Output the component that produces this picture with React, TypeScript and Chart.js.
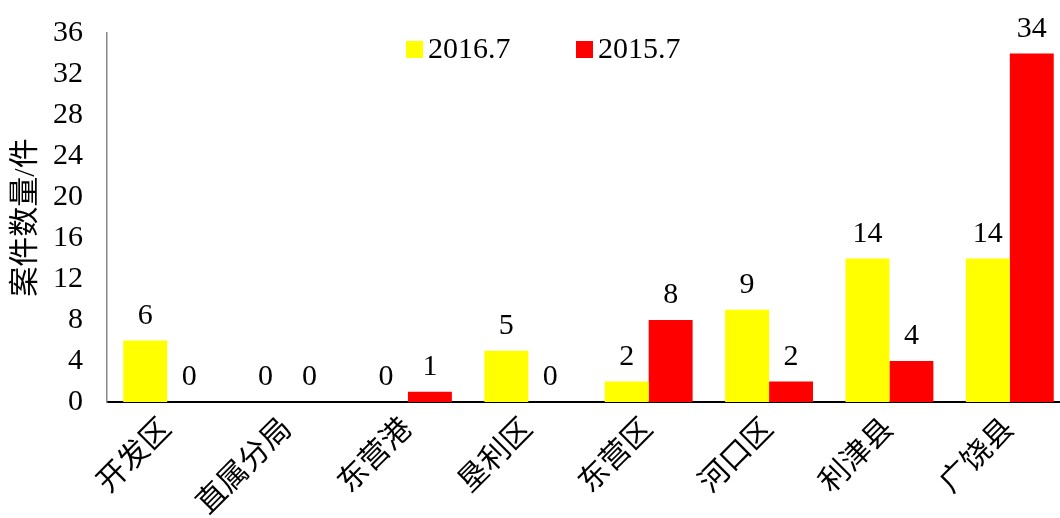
import React, { useEffect, useRef } from "react";
import { Chart, registerables } from "chart.js";

Chart.register(...registerables);

const categories = ["开发区", "直属分局", "东营港", "垦利区", "东营区", "河口区", "利津县", "广饶县"];
const series2016 = [6, 0, 0, 5, 2, 9, 14, 14];
const series2015 = [0, 0, 1, 0, 8, 2, 4, 34];
const seriesNames = ["2016.7", "2015.7"];
const seriesColors = ["#FFFF00", "#FF0000"];
const yTitle = "案件数量/件";

const FONT = "'Liberation Serif', 'Times New Roman', 'Noto Sans CJK SC', serif";
const FS = 30;

const labelPlugin = {
  id: "valueLabels",
  afterDatasetsDraw(chart: any) {
    const ctx = chart.ctx;
    ctx.save();
    ctx.font = `${FS}px ${FONT}`;
    ctx.fillStyle = "#000";
    ctx.textAlign = "center";
    ctx.textBaseline = "alphabetic";
    chart.data.datasets.forEach((ds: any, i: number) => {
      const meta = chart.getDatasetMeta(i);
      meta.data.forEach((el: any, j: number) => {
        ctx.fillText(String(ds.data[j]), el.x, el.y - 17);
      });
    });
    ctx.restore();
  },
};

const legendPlugin = {
  id: "customLegend",
  afterDraw(chart: any) {
    const ctx = chart.ctx;
    const area = chart.chartArea;
    ctx.save();
    ctx.font = `${FS}px ${FONT}`;
    ctx.textBaseline = "middle";
    ctx.textAlign = "left";
    const starts = [area.left + 299, area.left + 469];
    chart.data.datasets.forEach((ds: any, i: number) => {
      const x = starts[i];
      const y = area.top + 8;
      ctx.fillStyle = ds.backgroundColor;
      ctx.fillRect(x, y, 17, 17);
      ctx.fillStyle = "#000";
      ctx.fillText(ds.label, x + 22, y + 9);
    });
    ctx.restore();
  },
};

export default function App() {
  const ref = useRef<HTMLCanvasElement | null>(null);
  useEffect(() => {
    if (!ref.current) return;
    const chart = new Chart(ref.current, {
      type: "bar",
      data: {
        labels: categories,
        datasets: [
          { label: seriesNames[0], data: series2016, backgroundColor: seriesColors[0] },
          { label: seriesNames[1], data: series2015, backgroundColor: seriesColors[1] },
        ],
      },
      options: {
        animation: false,
        responsive: true,
        maintainAspectRatio: false,
        layout: { padding: { top: 33, right: 2, left: 8, bottom: 0 } },
        plugins: {
          legend: { display: false },
          tooltip: { enabled: false },
        },
        datasets: {
          bar: { categoryPercentage: 0.73, barPercentage: 1 },
        },
        scales: {
          x: {
            grid: { display: false, drawTicks: false },
            border: { display: true, color: "#000", width: 2 },
            ticks: {
              color: "#000",
              font: { family: FONT, size: FS },
              minRotation: 45,
              maxRotation: 45,
              padding: 10,
              autoSkip: false,
            },
            afterFit(scale: any) {
              scale.height = 116;
              scale.paddingLeft = 0;
              scale.paddingRight = 0;
            },
          },
          y: {
            min: 0,
            max: 36,
            grid: { display: false, drawTicks: false },
            border: { display: true, color: "#888", width: 1.5 },
            ticks: {
              stepSize: 4,
              color: "#000",
              font: { family: FONT, size: FS },
              padding: 24,
            },
            title: {
              display: true,
              text: yTitle,
              color: "#000",
              font: { family: FONT, size: FS },
              padding: 0,
            },
            afterFit(scale: any) {
              scale.width = 99;
              scale.paddingTop = 0;
              scale.paddingBottom = 0;
            },
          },
        },
      },
      plugins: [labelPlugin, legendPlugin],
    });
    return () => chart.destroy();
  }, []);
  return (
    <div style={{ position: "fixed", left: 0, top: 0, width: 1072, height: 518 }}>
      <canvas ref={ref} />
    </div>
  );
}
